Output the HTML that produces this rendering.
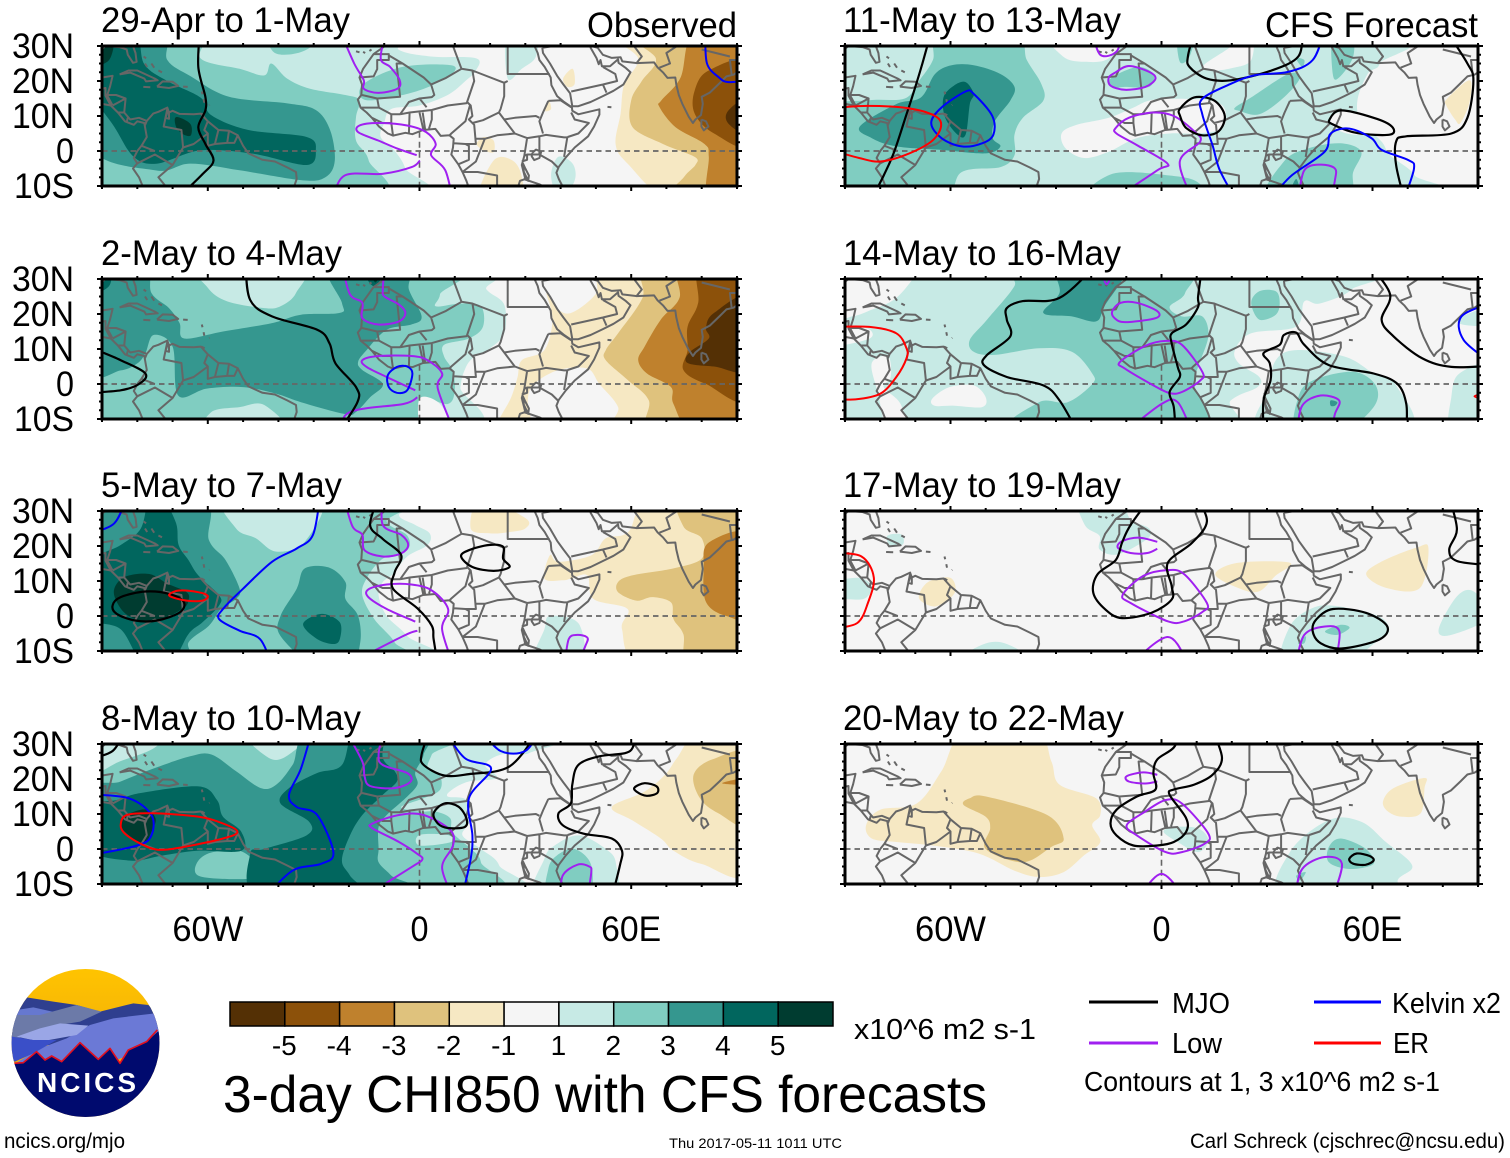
<!DOCTYPE html>
<html lang="en">
<head>
<meta charset="utf-8">
<title>3-day CHI850 with CFS forecasts</title>
<style>
html,body{margin:0;padding:0;background:#fff;}
svg{display:block;font-family:"Liberation Sans",sans-serif;}
</style>
</head>
<body>
<svg id="chart" xmlns="http://www.w3.org/2000/svg" width="1510" height="1158" viewBox="0 0 1510 1158">
  <rect x="0" y="0" width="1510" height="1158" fill="#fff"/>
  <defs><clipPath id="logo-clip"><circle cx="85.5" cy="1043" r="74"/></clipPath>
  <linearGradient id="sky" x1="0" y1="0" x2="0" y2="1"><stop offset="0" stop-color="#ffc400"/><stop offset="1" stop-color="#e89c10"/></linearGradient></defs>
  <g id="panels"></g>
  <g id="colorbar"></g>
  <text x="854" y="1039" font-size="29" textLength="182" lengthAdjust="spacingAndGlyphs">x10^6 m2 s-1</text>
  <text x="223" y="1112" font-size="52" textLength="764" lengthAdjust="spacingAndGlyphs">3-day CHI850 with CFS forecasts</text>
  <g>
    <line x1="1089" y1="1002" x2="1158" y2="1002" stroke="#000" stroke-width="3"/>
    <text x="1172" y="1013" font-size="29" textLength="58" lengthAdjust="spacingAndGlyphs">MJO</text>
    <line x1="1314" y1="1002" x2="1381" y2="1002" stroke="#0000ff" stroke-width="3"/>
    <text x="1392" y="1013" font-size="29" textLength="109" lengthAdjust="spacingAndGlyphs">Kelvin x2</text>
    <line x1="1089" y1="1043" x2="1158" y2="1043" stroke="#a020f0" stroke-width="3"/>
    <text x="1172" y="1053" font-size="29" textLength="50" lengthAdjust="spacingAndGlyphs">Low</text>
    <line x1="1314" y1="1043" x2="1381" y2="1043" stroke="#ff0000" stroke-width="3"/>
    <text x="1393" y="1053" font-size="29" textLength="36" lengthAdjust="spacingAndGlyphs">ER</text>
    <text x="1084" y="1091" font-size="28" textLength="356" lengthAdjust="spacingAndGlyphs">Contours at 1, 3 x10^6 m2 s-1</text>
  </g>
  <text x="4" y="1148" font-size="21" textLength="121" lengthAdjust="spacingAndGlyphs">ncics.org/mjo</text>
  <text x="669" y="1148" font-size="14" textLength="173" lengthAdjust="spacingAndGlyphs">Thu 2017-05-11 1011 UTC</text>
  <text x="1190" y="1148" font-size="21" textLength="315" lengthAdjust="spacingAndGlyphs">Carl Schreck (cjschrec@ncsu.edu)</text>
  <g>
    <g clip-path="url(#logo-clip)">
      <rect x="10" y="968" width="152" height="150" fill="url(#sky)"/>
      <g transform="translate(0,960) scale(0.3333)">
        <polygon fill="#2f3f8f" points="30,200 60,130 80,112 160,125 230,135 300,155 400,130 445,135 490,175 480,240 40,260"/>
        <polygon fill="#6678d0" points="35,200 50,150 100,142 170,158 120,175 40,210"/>
        <polygon fill="#6c7aa8" points="30,225 50,165 120,165 230,135 305,155 240,185 150,200 40,240"/>
        <polygon fill="#6b79d6" points="30,320 120,265 200,235 270,195 340,175 465,160 490,210 400,280 300,320 50,330"/>
        <polygon fill="#9aa6e6" points="50,230 120,205 180,190 265,197 230,225 120,245"/>
        <polygon fill="#3a4fc8" points="25,228 100,240 170,240 100,280 45,305 25,300"/>
        <polygon fill="#000a6e" points="30,310 70,308 110,275 135,300 155,288 185,305 240,248 295,298 330,265 360,310 385,270 440,245 490,200 490,490 20,490"/>
        <polyline fill="none" stroke="#e01020" stroke-width="5" stroke-linejoin="round" points="42,310 70,308 110,275 135,300 155,288 185,305 240,248 295,298 330,265 360,310 385,270 440,245 472,210"/>
      </g>
    </g>
    <text x="37" y="1092" font-size="28" font-weight="bold" fill="#fff" textLength="99" lengthAdjust="spacing">NCICS</text>
  </g>
</svg>
<script>
// ===== labels and scale =====
const panelTitles = ["29-Apr to 1-May","2-May to 4-May","5-May to 7-May","8-May to 10-May","11-May to 13-May","14-May to 16-May","17-May to 19-May","20-May to 22-May"];
const latTicks = [30,20,10,0,-10];
const latLabels = ["30N","20N","10N","0","10S"];
const lonTicks = [-60,0,60];
const lonLabels = ["60W","0","60E"];
const cbColors = ["#543005","#8c510a","#bf812d","#dfc27d","#f6e8c3","#f5f5f5","#c7eae5","#80cdc1","#35978f","#01665e","#003c30"];
const cbLabels = ["-5","-4","-3","-2","-1","1","2","3","4","5"];
const levelKeys = [-5,-4,-3,-2,-1,0,1,2,3,4,5];

// ===== panel 1: 29-Apr to 1-May (level, [lon,lat,...]) =====
const p1Fills = [
[1,[-90,30,-8,30,-6,29,3.2,27,16,26.5,16,23,13,20,8,16,0,13,-8,12,-10,8,-11,4,-7,0,-4,-5,-2,-10,-90,-10]],
[1,[25,30,33,30,33,27,29,23.5,25,20.7]],
[1,[37.3,-7.4,39.3,-1.7,43.4,-3.6,44,-8.4,40,-10]],
[2,[-90,30,-63,30,-62,26.4,-51,23.5,-44,21.6,-42,25,-37.5,20.7,-31,17.8,-21,16,-17,14.5,-18,9.7,-18,3,-14.4,-2.7,-14.4,-10,-90,-10]],
[2,[-42,30,-27,30,-33,28.5,-41,28]],
[2,[-16,19,-5,24,9,24.5,8.5,21.5,-1,17,-15,14.5]],
[3,[-90,30,-73,30,-71.5,26,-64.8,21.3,-54,15.5,-37.5,13.6,-29.4,11.7,-25.3,5.9,-24,-2.7,-26.5,-7.4,-33,-8.4,-51,-5.5,-65,-3.6,-75,-5.5,-90,2]],
[4,[-90,30,-81,30,-78,24.8,-71.5,20,-62,15.2,-59,10.2,-48.5,6,-32,4,-29.4,0.2,-32,-4,-47,-0.8,-62,0.2,-74.3,-3.6,-81,-1.7,-86.5,6.9,-90,19]],
[5,[-69,9.7,-65,7.8,-64.8,4.5,-67,4.8,-69,6.9]],
[5,[-90,30,-87,30,-88,26,-90,25]],
[-1,[16.9,-10,21,-2.7,26.4,-2.7,29,-7.4,28.4,-10]],
[-1,[16.2,2,18.2,4,21,3,21,-0.3,18.2,0.2]],
[-1,[36.6,14.5,37.3,12,35.5,11.5]],
[-1,[40.7,20.7,43.4,23.5,44,19.2,42,18.3]],
[-1,[56,30,62,26.4,58,19,57,10.7,55.6,2,59,-3.6,71.3,-10,90,-10,90,30]],
[-2,[60.4,30,67,26.4,63,20,60,14.5,60.4,6.8,69,2,78,-1.7,78.2,-4,75,-7.4,71.3,-10,90,-10,90,30]],
[-3,[78,30,74,21,68.6,14.5,68,12.6,72.6,6.8,80.8,2,82,-1.7,82,-10,90,-10,90,30]],
[-4,[90,25,82,23,78,17.3,78,10.7,83.5,5,90,2]],
[-5,[90,15.4,87.6,11.6,87.6,7.8,90,4.5]]
];
const p1Mjo = [[-62.3,30,-62.7,24,-60.7,15.4,-60.7,11.6,-62.7,6.8,-60.7,2,-58.4,-2.7,-61.4,-6.5,-68.8,-9.8]];
const p1Low = [
[-22.3,29.7,-18.5,25,-15.8,20.2,-15.8,17.8,-11.7,16.6,-6.3,17.8,-5.6,20.2,-8.3,24,-11,26.4,-9.6,29.7],
[9.4,-9.8,7.3,-5.5,3.3,-1.2,4.6,2,1.9,5.4,-3.5,7.3,-11.7,8,-17,7.3,-17.4,5.4,-11.7,3,-6.3,0.7,-0.8,-1.2],
[0.1,-2.7,-2.2,-4.6,-10.3,-6.5,-21.2,-7,-24.6,-9.8]
];
const p1Kelvin = [[81,29.7,81.5,25,84.9,21,87.6,19.7,90,20.2]];
const p1Er = [];

// ===== panel 2: 2-May to 4-May =====
const p2Fills = [
[1,[-90,30,14.5,30,19,27,24,22.7,24,14.5,20,10.2,15,7.3,12.8,4,11.6,-1,10.4,-10,-90,-10]],
[2,[-90,30,5.8,30,5.8,25.6,4.6,22.2,11.6,23,17.4,22.2,18,16.4,14,13,7,11.2,7,7.8,9.3,4,10,-1.8,8,-5.7,0,-4.2,0,-10,-90,-10]],
[1,[-62,30,-60,27.5,-54.5,23.6,-44,21.7,-39.4,22.2,-35,26,-33.6,30]],
[1,[-59,-8,-51,-6.6,-44,-6,-38,-10,-60,-10]],
[0,[0,-4.2,5.8,-5.7,9.5,-10,1,-10]],
[3,[-90,30,-78,30,-76,26,-71,21.7,-68,17.4,-66.7,13,-55.7,15,-41.8,17.4,-33.6,19.8,-22.6,20.3,-22,23.2,-25.5,30,-4,30,-3,27,0.6,19.3,-2.3,17,-9.3,15.5,-15,9.7,-17.4,6.3,-16.2,4,-10.4,0,-14,-3.8,-18,-8,-21,-8.6,-33.6,-5.2,-40.6,-2.8,-50,-0.9,-60.3,-1.3,-68.4,-3.3,-70,10.7,-75.4,14,-77.7,8.8,-80,5.9,-84.7,3.9,-90,3.9]],
[4,[-16,30,-9,30,-13,28]],
[4,[-90,30,-88,30,-88,28,-90,26]],
[5,[-14,30,-10.5,30,-12.5,29]],
[-1,[54.5,30,49.9,25.6,43,20.3,38.9,21.7,36,26,37.7,18.4,35.4,9.7,29,6.8,27.8,2,26,-3.8,21.5,-10,31.3,-10,30.7,-4.7,32.5,0,39.4,4,47.6,4.4,51,0,56.3,-6.6,56.8,-10,90,-10,90,30]],
[-2,[65,30,63.2,24.6,56.3,14.5,52.8,9.7,52.8,6.8,59.2,1,65,-4.7,66,-10,90,-10,90,30]],
[-3,[74.2,30,73.7,24.6,68.4,18.4,63.8,10.7,62,6.8,64.5,3,71.3,-0.9,72,-5.7,77.7,-10,90,-10,90,30]],
[-4,[79.5,30,79,23.2,76,16.4,76,9.7,74.8,4,81.2,0,90,-3.3,90,30]],
[-5,[90,25,83.5,20.3,81.2,16,82,13,76.5,9,76,6,83.5,5,90,4.5]]
];
const p2Mjo = [
[-49.3,30,-48,24,-41.8,19.3,-29,15.5,-25.5,11.6,-23.8,5.9,-18,-0.9,-17.6,-5.2,-23.2,-10],
[-90,10.7,-84.7,6.8,-77.7,3,-79.5,0,-84.7,-1.8,-90,-2.5]
];
const p2Low = [
[-22,30,-19.7,25.6,-16.2,23.2,-16.2,18.8,-11.6,17,-5.8,17.9,-4,20.3,-5.8,22.7,-9.9,25,-10.4,27,-9.9,30],
[9.9,-9.7,5.2,-1.3,6.4,3,2.3,6.8,-2.3,8,-11.6,8,-16.2,6.8,-15,4.9,-9.3,2,-1.2,-1.8],
[-0.6,-3.8,-4.6,-5.7,-19.7,-8,-22.6,-10]
];
const p2Kelvin = [[-6.4,4.9,-3.5,5,-2,3,-3.5,-1.8,-6.4,-2.5,-8.7,-0.9,-9,2.5]];
const p2Er = [];

// ===== panel 3: 5-May to 7-May =====
const p3Fills = [
[1,[-90,30,0,30,-5.8,29,-1.2,26,2.9,23.6,2.3,20.3,-3.5,17,-7.5,12,-10.4,9.7,-11.6,5.9,-9.3,0,-3.5,-5.7,1.7,-10,-90,-10]],
[1,[32.5,-10,35.4,-3.8,37,0,45.2,-2.3,45.8,-10]],
[2,[-90,30,-7.5,30,-9.3,27,-3.5,23,-3.5,18.8,-10.4,16.4,-15,10.7,-16.2,5.9,-12.8,-0.9,-7,-7.6,-5.8,-10,-90,-10]],
[1,[-55,30,-52,25,-46.4,22.2,-40.6,18.4,-32.5,21.2,-28.4,30]],
[3,[-90,30,-62,30,-59.7,21.7,-55,16,-51,7.8,-52,4.9,-56.3,2,-59.7,-2.8,-65.5,-7.6,-66,-10,-90,-10]],
[3,[-32.5,13.6,-25.5,13.8,-21,9.7,-21,4.9,-17.4,0,-16.8,-7.6,-19.7,-10,-30,-10,-39.4,-5.7,-39.4,0,-34.8,7.8]],
[4,[-76.6,30,-73,30,-69,26.5,-68.3,20.3,-65.5,16,-62.7,11.6,-56.8,5.9,-56.8,3,-61.5,-1.8,-65.5,-5.2,-70.8,-10,-78.3,-10,-84.7,-3.8,-90,0,-90,14.5,-84.7,20.3,-79,25]],
[5,[-86.5,7.8,-83.5,11.2,-76.6,12,-71.4,9.2,-66,6.8,-65.5,4.4,-67.3,2,-75.4,-1.8,-82.4,0,-85.8,4]],
[4,[-33,-2.3,-27.8,0.6,-22.6,-1.8,-22.6,-6.6,-24.4,-8,-29,-6.6]],
[-1,[14.5,25,17.4,29.4,30,28,30,25,25.5,24,20,23.6]],
[-1,[66,30,59.2,24,52.8,22.2,48.8,17.4,39.4,15.5,37,17.4,35.4,10.7,40.6,10.2,43,10.7,47.6,11.6,49.3,4.9,59,2,57.4,-3.8,63.2,-10,90,-10,90,30]],
[-2,[74.2,30,74.8,25.6,80,22.2,80,16.4,72,13.6,60.3,11.6,56.3,9.7,56.3,6.8,61.5,4.4,66,5.4,71.3,3.9,72,-0.9,74.8,-5.2,76.6,-10,90,-10,90,30]],
[-3,[90,23,82,21,80.6,13.6,81.2,4,87,0,90,0.6]],
[-3,[87.6,30,90,30,90,28]]
];
const p3Mjo = [
[-11.6,30,-14,26,-10.4,22,-5.2,17.4,-7,12.6,-7.5,7.8,-0.6,2.2,3.5,-2.8,4,-6.6,5.2,-10],
[-87,3,-84.7,5.4,-77.7,7,-70.8,6.3,-66.8,4,-68,1,-74.4,-1.3,-80.6,-1.3,-85.8,0.6],
[11.8,17,14,18.8,19.7,20.3,23.7,19.8,23.7,16.4,25.5,14,21,12.9,15,14]
];
const p3Low = [
[-21.5,30,-19,25.6,-16.2,23.2,-15.6,18.8,-10.4,17,-5.2,17.9,-3.2,20.3,-5.2,23.2,-10.4,26,-10.4,30],
[9.5,-9.8,6.4,-3.8,8.1,2,3.5,7.3,-2.3,9,-9.3,9,-14.5,7.6,-14.5,5.4,-9.3,2,-1.2,-1.6],
[-0.6,-4.2,-4.6,-5.7,-19.7,-9.5],
[41.2,-9.5,42.3,-6.6,44.7,-5.4,47.6,-6.2,47,-8.6,44.7,-9.7]
];
const p3Kelvin = [
[-83,30,-86.5,26.5,-89.4,23.7],
[-28.2,30,-30.2,23.2,-34.8,19.3,-41.8,15.5,-50,7.8,-55.7,2,-56.8,-0.9,-51,-4.2,-45.2,-6.6,-41.8,-10]
];
const p3Er = [[-70.8,6.3,-68,7.3,-62.7,6.8,-60,5.7,-61.5,4.4,-66,4.4,-70.2,5.4]];

// ===== panel 4: 8-May to 10-May =====
const p4Fills = [
[1,[-90,30,34.8,30,31.3,27.5,23.2,27,18.6,24,22,20.3,14,19.3,9.3,17,8,15,13.3,14,14,7.7,12.2,3.9,17.4,0,22.6,-4.7,22.6,-10,-90,-10]],
[1,[33,-10,35.4,-2.8,38.3,1,45.2,3.9,52.8,0,55.7,-4.2,54.5,-10]],
[2,[-90,30,6.4,30,3.5,27,2.3,23,5.8,21,5.8,16.9,1.2,14.5,-5.2,12,0,10.7,4.6,10.7,8.7,8.8,9.3,4.8,14,0.5,17.4,-3.8,16.2,-10,-90,-10]],
[1,[-49.6,30,-42.7,26,-37,27,-31.3,30]],
[1,[-90,30,-73,30,-75,29,-85,25,-90,21.5]],
[1,[0,4,8,4,9,2,0,1]],
[2,[36.5,-10,36.5,-5.7,38.9,-1.9,44,0,48.7,-4.7,47.6,-10]],
[3,[-90,15.3,-84.7,19.3,-74.8,23.2,-65,26.5,-59,27,-52,22.2,-45,17.4,-40.6,18.4,-36,24,-30,30,1,30,1.2,27,-1.2,22,-0.6,18.4,-4,14.5,-9.3,9.7,-11.6,6.3,-11.6,0,-11.6,-3.8,-8,-7.6,-2.3,-10,-90,-10]],
[2,[-63,-3.8,-59,-1,-51,-0.5,-45.8,-4.7,-46.4,-8,-53.4,-8.6,-62.7,-7.6]],
[4,[-90,12,-85.8,14,-79,16,-62.6,17.9,-57.4,14,-55.7,9.2,-50.5,4.9,-50.5,-0.5,-63,-0.5,-73,-1.9,-82.4,-3.3,-90,0]],
[4,[-18.6,30,-10.4,30,-10.4,26,-7,22.2,-6.4,19.3,-10.4,15.5,-16.2,9.7,-19.7,3.9,-22,-3.3,-19.7,-7.6,-16.2,-10,-45.8,-10,-48,-1.4,-44,0,-32,3.9,-31.3,7.8,-39.4,13,-37,17.4,-29,21.7,-22,24]],
[5,[-84.7,7.2,-83,9.7,-77.7,11.3,-74.8,8.7,-76,4.9,-78.3,1.4,-83.5,4.9]],
[-1,[79.5,30,73,26,69.6,21.2,63.8,16.4,54.5,12,60.3,8.2,68.4,3,72,-0.5,80,-4.3,90,-5.7,90,30]],
[-2,[90,27,83,25.6,77.7,21.2,79.5,14.5,84.7,10.2,90,6.8]],
[-3,[85.8,18.8,90,20.5,90,18.5]]
];
const p4Mjo = [
[-90,25.6,-87,28,-83.5,30],
[4,10.2,7,13,11,12.1,13.3,8.8,12.8,6.3,8,6,5.2,7.3],
[2.9,30,0.6,27,1.2,24,7,21,14,21.4,25.5,23.6,33.6,29.5],
[61,17.6,63.8,18.8,67.2,17.9,67.4,16,64.4,15.2,61.5,16.4],
[61,30,59.7,28,51,26.5,45,24,43.3,18.4,42.9,13,39.4,10.2,40.6,6.8,46.4,4.4,54.5,3,57.4,-0.5,56.8,-4.7,54.5,-10]
];
const p4Low = [
[-21,30,-16.2,25,-15.6,20.8,-14,18,-7,17.4,-2.5,19.3,-3.5,21.7,-10.4,24,-11.6,27,-10.2,30],
[9.3,-9.5,6.4,-5.2,9.5,1,8.7,5.4,1.2,9.7,-5.8,9.7,-13.3,7.3,-13.3,5.9,-5.8,2,-0.6,-1.4,0.8,-3,-2.3,-5.2,-16.2,-10],
[40,-9.7,40.6,-7.6,44.7,-4.5,48.1,-5,48.7,-6.6,47.6,-9.8]
];
const p4Kelvin = [
[-90,15.6,-82.4,14.5,-76,9.7,-76,3.9,-80,1,-90,-1.9],
[-30.4,30,-33.6,23,-37,15.5,-34.8,12,-29,9.7,-24.4,-1,-27.8,-4.2,-36,-6.2,-44,-10],
[7,30,12.8,26,20.3,23,14,14.5,15,3.9,14.5,-2.8,12,-10],
[17.4,30,23,28,30,28,34,30]
];
const p4Er = [[-84.7,6.8,-83,9.7,-75.4,10.2,-62.6,9.2,-55.7,7.3,-51.6,4.9,-55.7,3,-67.3,0.5,-74.2,-0.2,-79,1.5,-83.5,4.4]];

// ===== panel 5: 11-May to 13-May =====
const p5Fills = [
[1,[-90,30,60.3,30,62,25,58.6,22,55.7,14.4,56.8,8.5,62.6,2.7,65,-1.2,72,-7,72,-10,-90,-10]],
[0,[-32,30,-28,27,-22,25.5,-15,26.5,-11,30]],
[0,[12,24.5,18.6,29,25.5,30,25.5,26,19.7,23.6,14,23]],
[0,[-28.4,5,-24.4,7.4,-15,9.5,-8,12.4,-3.5,14.4,3.5,14.9,14,14.4,18,12,17.4,6.6,10.4,5,2.3,5,-7,3.7,-15,-0.2,-22,-2,-27.3,0.8]],
[0,[48,9.5,53.4,11.5,65,8.5,65.6,5,54.5,4.7,49.3,6.6]],
[2,[-90,12.4,-83,14.5,-73,15,-69,20,-65,26,-63,30,-41.8,30,-38.3,26,-34.2,19.2,-33.6,14.4,-39.4,9.5,-41.8,4.7,-41.8,-1.2,-45.8,-4.6,-56.8,-6,-62.6,-10,-85.8,-10,-90,-0.2]],
[2,[-14.5,20.7,-7,24,-2.3,22,-3.5,18.3,-10.4,18.3,-14,18]],
[2,[4.6,30,9.3,30,8,27,5.2,25.5]],
[2,[48.7,30,54,30,54.5,27,50.5,21,48.7,22]],
[2,[38.3,26.5,40.6,26,40,24]],
[2,[20.9,12.4,25.5,15.3,36,22,39.4,21,34.8,15.3,27.8,10.5,22,11.5]],
[2,[-20.3,-10,-13.9,-6.5,2.3,-7,10.4,-9,11,-10]],
[2,[30,-10,34.8,-3,41.8,0.8,51,2.2,56.8,-0.2,54.5,-6,52.2,-10]],
[3,[36,-10,38.3,-8,39.4,-10]],
[3,[-85.8,7,-75.4,13.4,-68.4,15.3,-64.4,22,-59.7,24.5,-53.4,24.5,-45.8,22,-41.8,18.3,-43,14.4,-47.4,8.5,-48,3.7,-45.8,1.3,-50,-0.7,-62.6,0.3,-75.4,1.3,-82.4,3.7]],
[4,[-62,15.3,-59,18.7,-55.7,19.7,-53.4,16.3,-54.5,13.4,-55.7,4.7,-58,4.7,-61.5,9.5]],
[-1,[81.2,14.9,87.6,20.2,87.6,14,85,8,83.5,9,81,13]]
];
const p5Mjo = [
[-65.5,30,-68,25,-70,18.3,-72.5,10.5,-76,-0.2,-79,-7,-82.4,-9.7],
[9.3,30,7.5,27,8,24,12.8,20.7,19.7,20.2,31.3,23,38.9,27,40,30],
[5.2,12,9.3,15.3,15,14.4,18,10,16.2,5.6,11.6,4.5,7,6.6,5.3,10],
[47.8,9,51,11.6,60.3,9.5,65.5,7,65,4.7,55.7,5.1,48.7,7.6],
[69,-9.7,66.7,-4,66.7,2.7,69.6,4.2,82.4,5,87,9.5,88.7,20.2,87,25,81.2,30]
];
const p5Low = [
[-19.7,30,-17.4,27.5,-12.8,28.4,-11,30],
[-13.3,22.3,-9.3,24.3,-3.5,22.6,-1.7,20.7,-4.6,18.3,-10.4,17.5,-14.5,18.7,-15,21],
[8.7,-9.7,5.2,-3,11,2.7,9.3,5.6,3.5,10,-2.3,11,-9.3,9.5,-13,6.6,-12.8,5,-7,1.7,1.7,-3.6,-1.2,-5.5,-13.3,-9.7],
[38.9,-9.7,40.6,-5.5,45.2,-3.9,49.3,-5,49.3,-8.4,48.1,-9.7]
];
const p5Kelvin = [
[-65.5,8,-62.6,12.4,-55.7,17,-53.4,16.3,-48.1,10,-47.8,4.7,-51,2.2,-56.8,1.3,-62.6,3.7],
[69,-9.7,71.8,-5,70.2,-2.6,62.6,0.3,59.7,3.7,53.4,6.4,48.1,5,46.4,-0.2,37,-7,30,-9.7,22,-9.4,16.8,-6,14.5,1.7,11.6,10.5,11.6,14.9,19.7,19.2,26.7,21.7,36,22.6,43,26,46.2,30]
];
const p5Er = [[-90,12.2,-83.5,12.9,-72,12.2,-64.4,10,-62.7,7,-65.5,2.7,-73,-1.2,-80,-3,-86,-2,-90,0.3]];

// ===== panel 6: 14-May to 16-May =====
const p6Fills = [
[1,[-90,30,55,30,54,27,45,23,40.6,23.6,38.3,16.4,25.5,14.5,20.9,9.7,22,5.9,27.8,2,27.3,-0.9,19.7,-4.7,12,-10,-90,-10]],
[1,[29,-10,30.7,-0.9,32.5,6.8,38.3,9.7,52.2,7.8,60.3,3,66.7,-0.4,69.6,-10]],
[1,[82.4,-3.8,84.7,3,90,4.9,90,-10,82.4,-10]],
[1,[85,19,90,22,90,17,85.5,17]],
[0,[-90,30,-67,30,-68,29.5,-75.4,24.6,-83.5,20.8,-88,19.3,-90,19]],
[0,[-90,16,-84,16,-83,13,-90,11]],
[0,[-82.4,5.9,-77.7,7.8,-77,2,-79,-0.9,-74.2,-5.7,-72.5,-10,-77.7,-10,-80.6,-2.8]],
[0,[-65.2,-4.2,-60.3,-0.9,-53.4,-0.4,-50,-3.8,-51,-6.6,-59,-6.2,-64.5,-6.2]],
[2,[-54.5,12.6,-49.6,18.4,-41.8,28,-40.6,30,5.8,30,6.7,26,2.3,22,5.8,19.3,11.6,19.3,13.3,13.6,10.4,4.9,9.3,0,10.4,-10,-41.8,-10,-34.8,-5.2,-26.7,-5.2,-19.7,0,-19.7,3,-25.5,9.2,-34.8,10.2,-47.6,8.3,-53.4,9.2]],
[2,[25.5,23.2,27.8,26.5,32.5,26.5,33.6,23.2,32.5,19.8,27.8,18.4]],
[2,[38.4,-10,38.9,-3.8,43,1,54.5,3.5,60.9,-0.4,60.3,-6.6,51,-10]],
[3,[-33.6,20.3,-29,26,-29,30,-10.4,30,-16.2,22.2,-18.6,17.9,-25.5,19.3]],
[3,[48.1,-4.7,50,-5.2,49.3,-6.2,48.1,-6.2]],
[-1,[-90,30,-87,30,-90,25]]
];
const p6Mjo = [
[-18.6,30,-29,24.6,-39.4,23.7,-44,21.7,-44,18.4,-43,13.6,-49.6,8.3,-50.5,5.4,-44,2,-33.6,-0.4,-29,-4.7,-23.8,-9.8],
[11.6,30,10.4,25,10.4,22,7,17,2.9,14.5,2.9,11.6,4.6,4.9,5.2,2,2.3,-2.3,3.5,-6.6,4,-9.8],
[29,-9.8,29,-4.7,31,1,30.8,5.9,29,8.8,33.6,11.2,34.8,14,38.3,14.7,40.6,11.2,47.6,5.4,60.3,3,67,0.1,69.6,-5.7,69.6,-9.8],
[59.2,30,65,25.6,62.6,18.4,66,13.6,74.2,7.3,82.4,4.9,90,5.2]
];
const p6Low = [
[-17.4,30,-15.6,28.5,-13.3,30],
[-14,20.8,-11.6,23.2,-7,23.2,-1.2,20.8,-1.7,18.8,-10.4,17.7,-13.3,18.8],
[-11.8,6.3,-4.6,10.9,1.2,12.3,5.8,11.2,11.6,3.5,11,1,5.8,-2.3,2.3,-2.6,-2.3,-0.4,-10.4,4.4],
[-10.4,-9.8,0,-5.7,4.6,-5.2,8.7,-9.8],
[38.5,-9.8,40,-6.2,45.2,-3.3,50.5,-4.7,49.3,-8.6,48.1,-9.8]
];
const p6Kelvin = [[90,23.2,85.3,19.3,85.9,12.6,90,5.9]];
const p6Er = [
[-90,16.3,-83,16.3,-75.4,14.5,-72.5,10.2,-72.5,7.3,-75.4,2,-80,-2.8,-87,-4.4,-90,-4.2],
[90,-2.5,89,-3.5,90,-4.8]
];

// ===== panel 7: 17-May to 19-May =====
const p7Fills = [
[1,[-23.5,30,-21.8,26,-17.6,22.9,-17.6,19,-12.4,17.6,-4.1,22,-3.5,25,-8.8,27.6,-12.4,30]],
[1,[-78,22.9,-74,23.3,-73.5,20.5,-77,20]],
[1,[-89.4,9.5,-86,10.9,-82.4,8.5,-84,5.2,-87.6,4.7,-89.4,5.7]],
[1,[-58.2,-10,-51,-8.2,-44,-8,-36,-10]],
[1,[34.7,-10,36.5,-3,43,2.3,50,2.8,61.8,-0.1,64.7,-4.4,60.6,-7.8,51,-10]],
[1,[78.8,-3.9,84,5.6,88.8,7,89.4,-0.1,82.4,-5.4]],
[2,[46.5,-4.4,51,-2.5,53.5,-3.4,50,-5.4]],
[2,[38.8,-7.8,41,-5.8,40.6,-7.8]],
[-1,[-68.8,6.6,-65.9,10,-60,10.9,-58.8,6.6,-64,2.8,-68.3,4.2]],
[-1,[15.3,11.9,21.8,15.2,36.5,15.2,32.3,11.4,27.6,7,21.8,8]],
[-1,[58.2,11.9,62.9,15.7,72.4,19.5,75.9,19.5,73.5,8,64,8]],
[-1,[-90,-5.8,-86,-10,-90,-10]]
];
const p7Mjo = [
[-3,30,-8.8,26,-11.2,21,-13,16,-18.2,11.9,-19.4,6.6,-15.9,1.8,-11.2,-0.6,-2.9,0.9,2.9,4.7,2.9,8.5,1.8,15.2,8.8,21,12.9,27,10,30],
[81.8,30,84,24.8,81.8,19,84,15.7,89.4,14.5],
[44,-1,48.8,2,58.2,0.9,64.2,-3,61.8,-6.8,51.2,-9.3,45.3,-7.8,43,-4.4]
];
const p7Low = [
[-1.2,21.2,-6.5,22.4,-11.2,21.4,-12.4,19.5,-8.8,18,-4,18,-1.2,19.2],
[-11,6.1,-5.3,11.4,1.8,13.1,6.5,11.9,12.9,3.7,11.8,1.3,6.5,-1.5,1.8,-1.5,-8.8,3.7],
[-8.8,-9.7,1.8,-6,7.6,-9.7],
[38.2,-10,40.6,-5.4,46.5,-3,50.6,-4.4,49.4,-9.7]
];
const p7Kelvin = [];
const p7Er = [[-89.4,18,-85.3,17,-81.8,11,-83.5,3.7,-86.5,-2,-89.4,-3.6]];

// ===== panel 8: 20-May to 22-May =====
const p8Fills = [
[-1,[-55.7,30,-36,30,-31.3,25,-29,18.4,-18.6,14.5,-17.4,9.7,-19.7,6.8,-17.4,2,-22,-1.8,-27.8,-6.6,-34.8,-8,-41.8,-6.2,-52,-1.3,-65,1,-75.4,2,-82.4,3,-84,6.8,-80,11.2,-69.6,13,-62.6,22.2]],
[-2,[-56.3,12.6,-54.5,14.5,-49.9,15,-32.5,9.7,-27.8,3,-31.3,0.6,-39.4,-3.8,-50,0,-48.7,5.9,-50,9.2]],
[-1,[63,13.6,66,17.4,74.8,20.3,74.8,17.4,73.7,10.2,68.4,9.2,64.4,10.7]],
[1,[0.6,4.9,3.5,6.3,10.4,5.9,13.3,2.5,10.4,-0.9,4.6,2]],
[1,[34.2,-10,36.5,-0.9,47.6,8.3,56.8,7.8,63.8,2,71.3,-4.7,67.3,-8.6,65,-10]],
[2,[47.6,0.6,51,3,58,0.1,60.3,-4.2,53.4,-5.7,47.6,-3.8]],
[2,[38.3,-7.6,41,-6.6,39.4,-9]]
];
const p8Mjo = [
[14.5,30,17.2,26,14.5,21.2,9.3,18.4,3.5,17,2.3,15.5,7,8.8,7,4.9,3.5,2,-1.2,1,-8,1,-12.8,3.9,-14.5,7.3,-12.8,11.2,-7,15,-1.7,17,-2.3,21.7,-1.2,25.6,3.5,29,5.8,30],
[53.4,-2.8,55.5,-1.3,59.2,-2,60.3,-3.3,58,-4.5,54.5,-4.2]
];
const p8Low = [
[-1.2,21.2,-5.2,21.9,-9.9,20.8,-9.3,19.3,-4.6,18.7,-1.2,19.3],
[-9.9,6.8,-4.6,10.7,1.2,14,5.8,13,13.3,4.4,12.2,1.5,5.8,-0.9,1.2,-0.9,-7,3.9],
[-6.4,-9.7,0,-7.1,6.4,-9.7],
[38,-9.7,40,-5.7,46.4,-2.3,51.3,-4.2,48.7,-9.7]
];
const p8Kelvin = [];
const p8Er = [];

const panelFills = [p1Fills,p2Fills,p3Fills,p4Fills,p5Fills,p6Fills,p7Fills,p8Fills];
const panelMjo = [p1Mjo,p2Mjo,p3Mjo,p4Mjo,p5Mjo,p6Mjo,p7Mjo,p8Mjo];
const panelLow = [p1Low,p2Low,p3Low,p4Low,p5Low,p6Low,p7Low,p8Low];
const panelKelvin = [p1Kelvin,p2Kelvin,p3Kelvin,p4Kelvin,p5Kelvin,p6Kelvin,p7Kelvin,p8Kelvin];
const panelEr = [p1Er,p2Er,p3Er,p4Er,p5Er,p6Er,p7Er,p8Er];

// ===== base map, [lon,lat,...] polylines =====
const coastLines = [
[-90,29.2,-89,30,-85,29.7,-83,29,-82.7,27.5,-81.2,25.2,-80.2,25.5,-80.5,28,-81.4,30.5],
[-90,21,-87,21.5,-87.7,18.5,-88.5,16,-86,16,-83.3,15,-83.7,11,-82,9,-79.5,9.5,-77.3,8.6,-75.5,10.7,-74,11.2,-71.5,12.4,-71,11,-70,11.5,-68,10.6,-64,10.5,-62,10.7,-60,8.5,-57,6,-54,5.8,-51.5,4.5,-50,1.5,-48.5,-0.7,-44.5,-2.5,-41,-3,-37.5,-4.7,-35,-6,-34.8,-8,-35.5,-10],
[-90,13.5,-87.5,13,-85.5,11,-83.5,8.5,-81,7.5,-80,8.5,-78,8,-77.3,4,-78.8,1.5,-80,0,-81,-2,-80,-3.5,-81.2,-5,-79.5,-7.5,-78.5,-10],
[-71.5,11,-72,9.5,-71,9.2,-71,10.8,-71.5,11],
[-85,21.9,-82.5,23,-80,23,-75,20.7,-74.2,20.2,-77.5,19.9,-78,20.7,-82,22.4,-85,21.9],
[-74.4,18.4,-72.8,19.9,-70,19.8,-68.4,18.6,-71,18,-74.4,18.4],
[-78.3,18.3,-76.3,18.2],
[-67,18.4,-65.7,18.3],
[-78.2,27,-77.5,26.5],[-77.8,25,-77.2,24],[-76,25,-75.2,23.8],[-74,23,-73,22.5],
[-61.7,17,-61.5,16.2],[-61.2,14.8,-61,13.8],[-59.6,13.1,-59.5,13.2],[-61.8,10.7,-60.9,10.2],
[-18,28.5,-17,28.2],[-16,28.3,-15.4,28],[-14.2,28.6,-13.6,29],
[-9.8,30,-13,27.7,-16,23.5,-17,21,-16.3,19,-16.5,16,-17.5,14.7,-16.7,12.4,-15,11,-13.5,9.5,-11.5,7,-9,5,-7.5,4.4,-4,5.2,-2,4.8,1,6,4.5,6.3,6,4.3,8.5,4.5,9.7,3.5,9.5,1,9,-1,11,-3.8,12.2,-6,13.3,-8.5,13.8,-10],
[32.6,30,33.5,28,34,26,35.5,24,37.2,21,37.4,18.8,39,15.7,41,14,43.2,12.5,43.3,11.5,45,10.5,51,11.9,51,10.4,49.5,7,47.8,4.2,44,1,41.5,-1.8,39.5,-4.5,38.8,-6.2,39.5,-8,40.5,-10],
[34.8,29.5,35,28,37,25,39,21.5,40.8,19,42.7,16.5,43.3,12.8,45,12.8,48.5,14,52,15.7,55,17.2,57.8,19,59.8,22.5,58.5,23.7,56.4,25.2,56.3,26.2,54,24.2,51.7,24.2,51.3,26,50.8,24.8,50.2,26.5,48.5,29.5,48.5,30],
[48.7,30,50.5,29.5,52,27.5,54.5,26.6,57,26.8,57.5,25.6,61.5,25.1,66.5,25.3,67.5,23.9,69,22.5,70.3,20.9,72.5,21,72.8,19,73.5,16,74.5,13.5,76.3,9.8,77.5,8,78.2,9,79.8,10.3,80.3,13.5,80,15.5,82.3,16.7,85,19.3,87,21.3,89,21.8,90,22.5],
[79.9,9,81.2,8.5,81.9,7,80.6,5.9,79.9,7,79.9,9],
[53.3,12.6,54.4,12.5],
[32,-0.5,33,0.4,34.5,-0.2,34,-2,32.5,-2.6,31.8,-1.5,32,-0.5],
[29.3,-3.5,29.6,-6,30.8,-8.5,31,-7,30,-5,29.3,-3.5]
];
const borderLines = [
[-13,27.7,-8.7,27.7,-8.7,26,-12,26,-12,23.4,-13,21.3,-17,21],
[-8.7,27.3,-4.8,25,-6.5,25,-5.5,15.5,-12,15,-16.3,16],
[-4.8,25,1.2,21,3.3,19,4.2,16,3.5,15.4,0,15,-3,14,-5.5,10.5],
[9.5,30,11.9,23.5,7.5,20.9,3.3,19],
[25,30,25,22,36.9,22],
[25,20,24,19.5,24,15.7,23,12,22.5,11,24,9,27,5,30.5,3.7,34,4.2,35.9,4.6,41,3.9,41.9,3.9,41,-1.7],
[11.9,23.5,15,23,24,19.5],
[15,23,15.5,20,13.5,14,14.5,13,15,10,14,9,15.5,7.5,16,2,13,2,9.8,2.2],
[3.5,11.7,8,13,13.5,13.7],
[14.3,13,13,8.5,9,5,8.5,4.5],
[2.7,6.4,3.5,9,3.5,11.7],[1.6,6.2,0.9,11],[1.1,6,0,11],[-3,5,-2.8,11],
[-5.5,10.5,-2.8,11,3.5,11.7],[0,15,2,12.5],
[-7.5,4.4,-8,8,-8,10.5,-5.5,10.5],[-13.5,9.5,-10.5,8,-8,8],
[-12,15,-11.5,12.4,-16.7,12.4],[-11.5,12.4,-8,10.5],
[15,8,18,8.8,22.5,11],[16,3.5,18.5,3.5,22,4.5,27,5],
[24,9,27,9.5,33,10,34,9.5],
[36.5,14.3,35,11,34,8.5,35,5],[36.5,14.3,40,14.5,43,12.5],
[43,11,44,9,48,8,45,5,42,4],
[34,4.2,34,0.3,34,-1,37.5,-3,39.2,-4.7],
[30.5,3.7,29.7,-1.4,29,-4,30,-8,28.5,-8.5,28,-10],
[29.7,-1.4,30.5,-1,34,-1],[30.5,-1,30.5,-2.5,29,-3],
[11,-3.8,14,-2.5,14,1.5,13,2],[18.5,3.5,16,-3,12.2,-6,16.5,-6,22,-7,22,-10],
[29.5,-8,34,-9.5,34.9,-10],
[-71.5,12,-72.5,7,-67.5,6,-67,1,-70,-4,-74,-7.5,-72,-10],
[-80,-3.5,-75,-1,-70,-4],[-78.8,1.5,-75,0],
[-67,1,-64,2,-60,5,-61,6,-60,8.5],
[-57,6,-58,2,-60,1.5,-60,5],[-54,5.8,-54.5,2.3,-58,2],[-51.5,4.5,-52.5,2.3,-54.5,2.3],
[-90,17.8,-89,18,-89,15.8,-87.5,13],[-88.5,15.8,-87,13],[-83.3,15,-87,13],[-83.7,11,-85.5,11],[-82.7,9.5,-83,8.3],[-77.3,8.6,-77.9,7.2],
[61.5,25.1,63,27,60.8,30],[68,23.8,71,25,70,28,73,30],
[43,17,52,19,56,20,55.5,22,52,24],[52,19,53,16.7],[34.9,29.5,38,30],
[88.5,21.7,88,26,90,26],[80,29,88,27]
];
const equatorLine = [-90,0,90,0];
const meridianLine = [0,5.5,0,-10];

// ===== layout and axes =====
const NS = "http://www.w3.org/2000/svg";
const colX = [102,845];
const colW = [635,633];
const rowY = [46,279,511,744];
const plotH = 140;
const lonMin = -90, lonMax = 90, latMin = -10, latMax = 30;
const titleWidths = [249,241,241,260,278,278,278,281];

function el(tag){ return document.createElementNS(NS,tag); }
function xAxis(col,lon){ return colX[col] + (lon-lonMin)/(lonMax-lonMin)*colW[col]; }
function yAxis(row,lat){ return rowY[row] + (latMax-lat)/(latMax-latMin)*plotH; }
function colorFor(level){ return cbColors[levelKeys.indexOf(level)]; }

// push points on the frame outward so the clip, not the spline, makes the edge
function pushOut(lon,lat){
  let a=lon,b=lat;
  if(lon<=-89.4) a=lon-4; if(lon>=89.4) a=lon+4;
  if(lat>=29.4) b=lat+4; if(lat<=-9.4) b=lat-4;
  return [a,b];
}
function project(col,row,flat,push){
  const out=[];
  for(let i=0;i<flat.length;i+=2){
    const p = push ? pushOut(flat[i],flat[i+1]) : [flat[i],flat[i+1]];
    out.push([xAxis(col,p[0]),yAxis(row,p[1])]);
  }
  return out;
}
function spline(pts,closed){
  const n=pts.length;
  if(n<3){ return "M"+pts.map(p=>p[0].toFixed(1)+" "+p[1].toFixed(1)).join("L"); }
  const at=i=> closed ? pts[(i+n)%n] : pts[Math.max(0,Math.min(n-1,i))];
  let d="M"+pts[0][0].toFixed(1)+" "+pts[0][1].toFixed(1);
  const segs = closed ? n : n-1;
  for(let i=0;i<segs;i++){
    const p0=at(i-1),p1=at(i),p2=at(i+1),p3=at(i+2);
    const c1=[p1[0]+(p2[0]-p0[0])/6,p1[1]+(p2[1]-p0[1])/6];
    const c2=[p2[0]-(p3[0]-p1[0])/6,p2[1]-(p3[1]-p1[1])/6];
    d+="C"+c1[0].toFixed(1)+" "+c1[1].toFixed(1)+" "+c2[0].toFixed(1)+" "+c2[1].toFixed(1)+" "+p2[0].toFixed(1)+" "+p2[1].toFixed(1);
  }
  return d+(closed?"Z":"");
}
function onEdge(lon,lat){ return lon<=-89 || lon>=89 || lat>=29 || lat<=-9.4; }
function isLoop(flat){
  const n=flat.length;
  if(onEdge(flat[0],flat[1]) || onEdge(flat[n-2],flat[n-1])) return false;
  if(flat[0]===flat[n-2]) return false;
  return Math.hypot(flat[0]-flat[n-2],flat[1]-flat[n-1])<12;
}
function polyD(col,row,flat){
  return "M"+project(col,row,flat,false).map(p=>p[0].toFixed(1)+" "+p[1].toFixed(1)).join("L");
}
function addText(parent,str,x,y,size,anchor,len){
  const t=el("text");
  t.textContent=str;
  t.setAttribute("x",x);
  t.setAttribute("y",y);
  t.setAttribute("font-size",size);
  if(anchor) t.setAttribute("text-anchor",anchor);
  if(len){ t.setAttribute("textLength",len); t.setAttribute("lengthAdjust","spacingAndGlyphs"); }
  parent.appendChild(t);
  return t;
}

const panelsRoot=document.getElementById("panels");
const defs=document.querySelector("svg defs");
const latLabelW={"30N":62,"20N":62,"10N":62,"0":18,"10S":60};
const lonLabelW={"60W":71,"0":18,"60E":60};

function drawSeries(g,col,row,series,color,width,name){
  series.forEach(function(flat){
    const p=el("path");
    p.setAttribute("d",spline(project(col,row,flat,true),isLoop(flat)));
    p.setAttribute("fill","none");
    p.setAttribute("stroke",color);
    p.setAttribute("stroke-width",width);
    
    
    g.appendChild(p);
  });
}

panelTitles.forEach(function(title,idx){
  const col = idx<4 ? 0 : 1;
  const row = idx%4;
  const px=colX[col], w=colW[col], py=rowY[row];
  const g=el("g");
  
  
  panelsRoot.appendChild(g);

  const clip=el("clipPath");
  clip.setAttribute("id","clip-"+idx);
  const cr=el("rect");
  cr.setAttribute("x",px); cr.setAttribute("y",py); cr.setAttribute("width",w); cr.setAttribute("height",plotH);
  clip.appendChild(cr);
  defs.appendChild(clip);

  const bg=el("rect");
  bg.setAttribute("x",px); bg.setAttribute("y",py); bg.setAttribute("width",w); bg.setAttribute("height",plotH);
  bg.setAttribute("fill",colorFor(0));
  
  
  g.appendChild(bg);

  const inner=el("g");
  inner.setAttribute("clip-path","url(#clip-"+idx+")");
  
  
  g.appendChild(inner);

  panelFills[idx].forEach(function(item){
    const p=el("path");
    p.setAttribute("d",spline(project(col,row,item[1],true),true));
    p.setAttribute("fill",colorFor(item[0]));
    
    
    inner.appendChild(p);
  });

  const mapG=el("g");
  mapG.setAttribute("fill","none");
  mapG.setAttribute("stroke","#666");
  mapG.setAttribute("stroke-width","2");
  mapG.setAttribute("stroke-linejoin","round");
  
  
  inner.appendChild(mapG);
  const mapPath=el("path");
  mapPath.setAttribute("d",coastLines.concat(borderLines).map(function(f){return polyD(col,row,f);}).join(""));
  
  
  mapG.appendChild(mapPath);

  const eq=el("path");
  eq.setAttribute("d",polyD(col,row,equatorLine));
  eq.setAttribute("stroke","#666");
  eq.setAttribute("stroke-width","1.8");
  eq.setAttribute("stroke-dasharray","5.5 4");
  
  
  inner.appendChild(eq);
  const mer=el("path");
  mer.setAttribute("d",polyD(col,row,meridianLine));
  mer.setAttribute("stroke","#666");
  mer.setAttribute("stroke-width","1.6");
  mer.setAttribute("stroke-dasharray","6 4");
  
  
  inner.appendChild(mer);

  drawSeries(inner,col,row,panelLow[idx],"#a020f0",2,"low-contour");
  drawSeries(inner,col,row,panelMjo[idx],"#000",2.2,"mjo-contour");
  drawSeries(inner,col,row,panelKelvin[idx],"#0000ff",2,"kelvin-contour");
  drawSeries(inner,col,row,panelEr[idx],"#ff0000",2,"er-contour");

  // ticks
  let tickD="";
  for(let lon=lonMin;lon<=lonMax;lon+=10){
    const xx=xAxis(col,lon).toFixed(1);
    const len=(lon%60===0)?5:3;
    tickD+="M"+xx+" "+py+"v-"+len+"M"+xx+" "+(py+plotH)+"v"+len;
  }
  for(let lat=latMin;lat<=latMax;lat+=2.5){
    const yy=yAxis(row,lat).toFixed(1);
    const len=(lat%10===0)?5:3;
    tickD+="M"+px+" "+yy+"h-"+len+"M"+(px+w)+" "+yy+"h"+len;
  }
  const ticks=el("path");
  ticks.setAttribute("d",tickD);
  ticks.setAttribute("stroke","#000");
  ticks.setAttribute("stroke-width","2");
  
  
  g.appendChild(ticks);

  const frame=el("rect");
  frame.setAttribute("x",px); frame.setAttribute("y",py); frame.setAttribute("width",w); frame.setAttribute("height",plotH);
  frame.setAttribute("fill","none");
  frame.setAttribute("stroke","#000");
  frame.setAttribute("stroke-width","3");
  
  
  g.appendChild(frame);

  const titleEl=addText(g,title,col===0?px-1:px-2,py-14,35,null,titleWidths[idx]);
  
  

  if(col===0){
    latTicks.forEach(function(lat,i){
      const t=addText(g,latLabels[i],74,yAxis(row,lat)+12,35,"end",latLabelW[latLabels[i]]);
      
      
    });
  }
  if(row===3){
    lonTicks.forEach(function(lon,i){
      const t=addText(g,lonLabels[i],xAxis(col,lon),941,35,"middle",lonLabelW[lonLabels[i]]);
      
      
    });
  }
});

// panel column headings
const headObs=addText(panelsRoot,"Observed",587,37,35,null,150);


const headCfs=addText(panelsRoot,"CFS Forecast",1265,37,35,null,213);



// colorbar
const cbRoot=document.getElementById("colorbar");
const cbX=230, cbW=603, cbY=1002, cbH=24;
const cellW=cbW/cbColors.length;
cbColors.forEach(function(c,i){
  const r=el("rect");
  r.setAttribute("x",cbX+i*cellW);
  r.setAttribute("y",cbY);
  r.setAttribute("width",cellW);
  r.setAttribute("height",cbH);
  r.setAttribute("fill",c);
  r.setAttribute("stroke","#000");
  r.setAttribute("stroke-width","1.5");
  
  
  cbRoot.appendChild(r);
});
cbLabels.forEach(function(s,i){
  const t=addText(cbRoot,s,cbX+(i+1)*cellW-0.5,1055,28,"middle",null);
  
  
});
</script>
</body>
</html>
